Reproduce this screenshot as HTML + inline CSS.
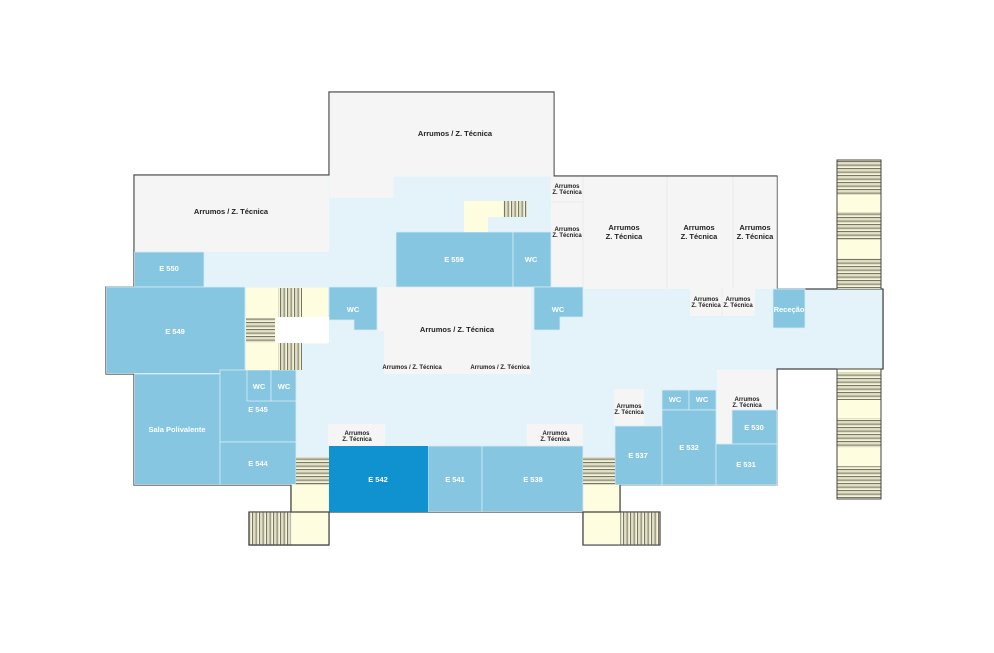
<!DOCTYPE html>
<html><head><meta charset="utf-8"><style>
html,body{margin:0;padding:0;background:#fff}
svg{display:block}
text{font-family:"Liberation Sans",sans-serif;font-weight:bold;text-anchor:middle}
.w{fill:#fff;font-size:7.5px}
.d{fill:#222;font-size:7.5px}
.s{fill:#222;font-size:6px}
</style></head><body>
<svg width="994" height="653" viewBox="0 0 994 653" xmlns="http://www.w3.org/2000/svg">
<defs>
<pattern id="v" width="7" height="4" patternUnits="userSpaceOnUse"><rect width="7" height="4" fill="#fefde0"/><rect x="0" width="1.2" height="4" fill="#777766"/><rect x="3.5" width="1.2" height="4" fill="#777766"/><rect x="1.8" width="0.9" height="4" fill="#d6d4b8"/><rect x="5.3" width="0.9" height="4" fill="#d6d4b8"/></pattern>
<pattern id="h" width="4" height="7" patternUnits="userSpaceOnUse"><rect width="4" height="7" fill="#fefde0"/><rect y="0" height="1.2" width="4" fill="#777766"/><rect y="3.5" height="1.2" width="4" fill="#777766"/><rect y="1.8" height="0.9" width="4" fill="#d6d4b8"/><rect y="5.3" height="0.9" width="4" fill="#d6d4b8"/></pattern>
</defs>
<polygon points="134,175 329,175 329,92 554,92 554,176 777,176 777,289 883,289 883,369 777,369 777,485 620,485 620,512 660,512 660,545 583,545 583,512 329,512 329,545 249,545 249,512 291,512 291,485 134,485 134,374 106,374 106,287 134,287" fill="#e4f3f9" stroke="#444" stroke-width="1.2"/>
<g fill="#f5f5f5">
<rect x="329.6" y="92.6" width="224" height="84"/>
<rect x="329.6" y="176" width="64" height="22"/>
<rect x="134.6" y="175.6" width="194.4" height="76.4"/>
<rect x="551" y="176.6" width="225.8" height="112.4"/>
<polygon points="378,287 531,287 531,331 531,374 384,374 384,331 378,331"/>
<rect x="328" y="424" width="57" height="22"/>
<rect x="527" y="424" width="56" height="22"/>
<rect x="614" y="389" width="30" height="37"/>
<rect x="690" y="289" width="65" height="27"/>
<rect x="717" y="369.6" width="59.6" height="75"/>
</g>
<g stroke="#e8e8e8" stroke-width="0.8"><line x1="583" y1="177" x2="583" y2="289"/><line x1="667" y1="177" x2="667" y2="289"/><line x1="733" y1="177" x2="733" y2="289"/><line x1="551" y1="202" x2="583" y2="202"/><line x1="722" y1="289" x2="722" y2="316"/></g>
<g fill="#86c6e1" stroke="#d6ecf5" stroke-width="0.8">
<rect x="134.6" y="252" width="69.4" height="35"/>
<rect x="106.6" y="287" width="138.4" height="86.4"/>
<rect x="134.6" y="374" width="85.4" height="110.4"/>
<rect x="220" y="370" width="76" height="72"/>
<rect x="247" y="370" width="24" height="31"/>
<rect x="271" y="370" width="25" height="31"/>
<rect x="220" y="442" width="76" height="42.4"/>
<rect x="428" y="446" width="54" height="65.4"/>
<rect x="482" y="446" width="101" height="65.4"/>
<rect x="396" y="232" width="117" height="55"/>
<rect x="513" y="232" width="38" height="55"/>
<polygon points="329,287 377,287 377,330 354,330 354,320 329,320"/>
<polygon points="534,287 583,287 583,317 560,317 560,330 534,330"/>
<rect x="773" y="289" width="32" height="39"/>
<rect x="615" y="426" width="47" height="59"/>
<rect x="662" y="390" width="27" height="20"/>
<rect x="689" y="390" width="27" height="20"/>
<rect x="662" y="410" width="54" height="75"/>
<rect x="732" y="410" width="45" height="34"/>
<rect x="716" y="444" width="61" height="41"/>
</g>
<rect x="329" y="446" width="99" height="66" fill="#1092d0"/>
<rect x="246" y="287.6" width="82" height="56" fill="#fefde0"/>
<rect x="246" y="343" width="56" height="27" fill="#fefde0"/>
<rect x="276" y="317" width="53" height="26" fill="#fff"/>
<rect x="278" y="288" width="24" height="29" fill="url(#v)"/>
<rect x="278" y="343" width="24" height="27" fill="url(#v)"/>
<rect x="246" y="318" width="29" height="25" fill="url(#h)"/>
<rect x="464" y="201" width="63" height="16" fill="#fefde0"/>
<rect x="464" y="217" width="24" height="15" fill="#fefde0"/>
<rect x="503" y="201" width="24" height="16" fill="url(#v)"/>
<rect x="296" y="457" width="33" height="28" fill="url(#h)"/>
<rect x="291.6" y="485" width="37" height="59.4" fill="#fefde0"/>
<rect x="249.6" y="512.6" width="41.4" height="31.8" fill="url(#v)"/>
<rect x="583" y="457" width="32" height="28" fill="url(#h)"/>
<rect x="583.6" y="485" width="36.4" height="59.4" fill="#fefde0"/>
<rect x="620" y="512.6" width="39.4" height="31.8" fill="url(#v)"/>
<g stroke="#444" stroke-width="1.2" fill="none">
<polyline points="329,545 329,512 291,512 291,485"/>
<polyline points="583,545 583,512 620,512 620,485"/>
<polyline points="249,512 249,545 329,545"/>
</g>
<rect x="837" y="160" width="44" height="129" fill="#fefde0" stroke="#444" stroke-width="1"/>
<rect x="837" y="369" width="44" height="130" fill="#fefde0" stroke="#444" stroke-width="1"/>
<rect x="837.5" y="161" width="43" height="34" fill="url(#h)"/>
<rect x="837.5" y="212" width="43" height="28" fill="url(#h)"/>
<rect x="837.5" y="258" width="43" height="31" fill="url(#h)"/>
<rect x="837.5" y="372" width="43" height="28" fill="url(#h)"/>
<rect x="837.5" y="418" width="43" height="30" fill="url(#h)"/>
<rect x="837.5" y="466" width="43" height="32" fill="url(#h)"/>
<rect x="836" y="289.6" width="46.4" height="78.8" fill="#e4f3f9"/>
<line x1="883" y1="289" x2="883" y2="369" stroke="#444" stroke-width="1.2"/>
<text class="d" x="455" y="136">Arrumos / Z. Técnica</text>
<text class="d" x="231" y="214">Arrumos / Z. Técnica</text>
<text class="d" x="457" y="332">Arrumos / Z. Técnica</text>
<text class="s" x="412" y="369">Arrumos / Z. Técnica</text>
<text class="s" x="500" y="369">Arrumos / Z. Técnica</text>
<text class="s" x="357" y="435">Arrumos</text><text class="s" x="357" y="441">Z. Técnica</text>
<text class="s" x="555" y="435">Arrumos</text><text class="s" x="555" y="441">Z. Técnica</text>
<text class="s" x="567" y="188">Arrumos</text><text class="s" x="567" y="194">Z. Técnica</text>
<text class="s" x="567" y="231">Arrumos</text><text class="s" x="567" y="237">Z. Técnica</text>
<text class="d" x="624" y="230">Arrumos</text><text class="d" x="624" y="239">Z. Técnica</text>
<text class="d" x="699" y="230">Arrumos</text><text class="d" x="699" y="239">Z. Técnica</text>
<text class="d" x="755" y="230">Arrumos</text><text class="d" x="755" y="239">Z. Técnica</text>
<text class="s" x="706" y="301">Arrumos</text><text class="s" x="706" y="307">Z. Técnica</text>
<text class="s" x="738" y="301">Arrumos</text><text class="s" x="738" y="307">Z. Técnica</text>
<text class="s" x="629" y="408">Arrumos</text><text class="s" x="629" y="414">Z. Técnica</text>
<text class="s" x="747" y="401">Arrumos</text><text class="s" x="747" y="407">Z. Técnica</text>
<text class="w" x="169" y="271">E 550</text>
<text class="w" x="175" y="334">E 549</text>
<text class="w" x="177" y="432">Sala Polivalente</text>
<text class="w" x="259" y="389">WC</text>
<text class="w" x="284" y="389">WC</text>
<text class="w" x="258" y="412">E 545</text>
<text class="w" x="258" y="466">E 544</text>
<text class="w" x="378" y="482">E 542</text>
<text class="w" x="455" y="482">E 541</text>
<text class="w" x="533" y="482">E 538</text>
<text class="w" x="454" y="262">E 559</text>
<text class="w" x="531" y="262">WC</text>
<text class="w" x="353" y="312">WC</text>
<text class="w" x="558" y="312">WC</text>
<text class="w" x="789" y="312">Receção</text>
<text class="w" x="638" y="458">E 537</text>
<text class="w" x="675" y="402">WC</text>
<text class="w" x="702" y="402">WC</text>
<text class="w" x="689" y="450">E 532</text>
<text class="w" x="754" y="430">E 530</text>
<text class="w" x="746" y="467">E 531</text>
</svg>
</body></html>
